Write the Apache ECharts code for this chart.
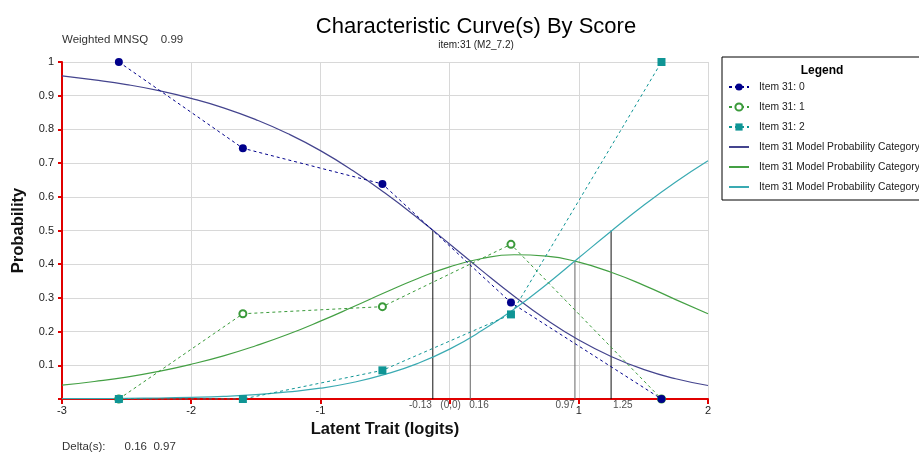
<!DOCTYPE html>
<html>
<head>
<meta charset="utf-8">
<script src="https://cdn.jsdelivr.net/npm/echarts@6/dist/echarts.min.js"></script>
<style>html,body{margin:0;padding:0;background:#fff;}#c{width:919px;height:455px;}</style>
</head>
<body>
<div id="c"></div>
<script>
// ---- Data ----
const obsX = [-2.56, -1.6, -0.52, 0.475, 1.64];
const obs0 = [1.0, 0.744, 0.638, 0.286, 0.0];
const obs1 = [0.0, 0.253, 0.274, 0.459, 0.0];
const obs2 = [0.0, 0.0, 0.085, 0.251, 1.0];

const modelX = [-3, -2.75, -2.5, -2.25, -2, -1.75, -1.5, -1.25, -1, -0.75, -0.5, -0.25, 0, 0.25, 0.5, 0.75, 1, 1.25, 1.5, 1.75, 2];
const model0 = [0.959, 0.947, 0.933, 0.915, 0.892, 0.864, 0.829, 0.787, 0.737, 0.678, 0.611, 0.538, 0.460, 0.381, 0.305, 0.235, 0.175, 0.126, 0.088, 0.060, 0.040];
const model1 = [0.041, 0.052, 0.065, 0.082, 0.103, 0.128, 0.158, 0.192, 0.231, 0.273, 0.316, 0.357, 0.392, 0.417, 0.428, 0.424, 0.406, 0.376, 0.338, 0.295, 0.253];
const model2 = [0.001, 0.001, 0.002, 0.003, 0.005, 0.008, 0.013, 0.021, 0.032, 0.049, 0.073, 0.105, 0.148, 0.203, 0.267, 0.340, 0.419, 0.498, 0.574, 0.644, 0.707];

const thresholdX = [-0.13, 0.16, 0.97, 1.25];
const thresholdTop = [0.5, 0.41, 0.41, 0.5];
const annotX = [-0.13, 0, 0.16, 0.97, 1.25];
const annotText = ['-0.13', '(0,0)', '0.16', '0.97', '1.25'];

const seriesNames = ['Item 31: 0', 'Item 31: 1', 'Item 31: 2',
  'Item 31 Model Probability Category 0', 'Item 31 Model Probability Category 1', 'Item 31 Model Probability Category 2'];

const titleText = 'Characteristic Curve(s) By Score';
const subText = 'item:31 (M2_7.2)';
const mnsqText = 'Weighted MNSQ    0.99';
const deltaText = 'Delta(s):      0.16  0.97';

// ---- Build chart ----
const FONT = 'Liberation Sans, Arial, sans-serif';
const zip = (xs, ys) => xs.map((x, i) => [x, ys[i]]);

const cNavy = '#00008b', cGreen = '#3a9a3a', cTeal = '#0f9595';
const mNavy = '#44448e', mGreen = '#44a044', mTeal = '#3aaab2';

const thresholdColors = ['#111', '#666', '#666', '#111'];
const annotAlign = ['right', 'center', 'left', 'right', 'left'];
const annotOffset = [[-1, 0], [1, 0], [-1, 0], [0, 0], [2, 0]];

const series = [];
thresholdX.forEach((x, i) => {
  series.push({
    type: 'line', silent: true, symbol: 'none', z: 1,
    data: [[x, 0], [x, thresholdTop[i]]],
    lineStyle: { color: thresholdColors[i], width: 1 }
  });
});
series.push(
  { name: seriesNames[3], type: 'line', smooth: true, symbol: 'none', data: zip(modelX, model0), lineStyle: { color: mNavy, width: 1.2 }, itemStyle: { color: mNavy }, z: 3 },
  { name: seriesNames[4], type: 'line', smooth: true, symbol: 'none', data: zip(modelX, model1), lineStyle: { color: mGreen, width: 1.2 }, itemStyle: { color: mGreen }, z: 3 },
  { name: seriesNames[5], type: 'line', smooth: true, symbol: 'none', data: zip(modelX, model2), lineStyle: { color: mTeal, width: 1.2 }, itemStyle: { color: mTeal }, z: 3 },
  { name: seriesNames[1], type: 'line', data: zip(obsX, obs1), symbol: 'emptyCircle', symbolSize: 7,
    lineStyle: { color: cGreen, width: 1, type: [3, 3] }, itemStyle: { color: cGreen, borderColor: cGreen, borderWidth: 1.1 }, z: 4 },
  { name: seriesNames[0], type: 'line', data: zip(obsX, obs0), symbol: 'circle', symbolSize: 8,
    lineStyle: { color: cNavy, width: 1, type: [3, 3] }, itemStyle: { color: cNavy }, z: 5 },
  { name: seriesNames[2], type: 'line', data: zip(obsX, obs2), symbol: 'rect', symbolSize: 8,
    lineStyle: { color: cTeal, width: 1, type: [3, 3] }, itemStyle: { color: cTeal }, z: 5 },
  { type: 'scatter', silent: true, symbolSize: 0, z: 6,
    data: annotX.map((x, i) => ({
      value: [x, 0],
      label: { show: true, formatter: annotText[i], position: 'bottom', distance: 1, align: annotAlign[i], offset: annotOffset[i],
        fontSize: 10, color: '#222', fontFamily: FONT }
    }))
  }
);

const legendData = seriesNames.map((n, i) => i < 3 ? { name: n } : { name: n, itemStyle: { opacity: 0 } });

const chart = echarts.init(document.getElementById('c'), null, { renderer: 'canvas' });
chart.setOption({
  animation: false,
  backgroundColor: '#fff',
  title: [
    { text: titleText, subtext: subText, left: 476, textAlign: 'center', top: 16, itemGap: 2, padding: 0,
      textStyle: { fontSize: 22, fontWeight: 'normal', color: '#000', fontFamily: FONT },
      subtextStyle: { fontSize: 10, color: '#222', fontFamily: FONT } },
    { text: mnsqText, left: 62, top: 34, padding: 0, textStyle: { fontSize: 11.5, fontWeight: 'normal', color: '#333', fontFamily: FONT } },
    { text: deltaText, left: 62, top: 441, padding: 0, textStyle: { fontSize: 11.5, fontWeight: 'normal', color: '#333', fontFamily: FONT } },
    { text: 'Legend', left: 822, textAlign: 'center', top: 65, padding: 0, textStyle: { fontSize: 12, fontWeight: 'bold', color: '#000', fontFamily: FONT } }
  ],
  legend: {
    orient: 'vertical', left: 722, top: 57,
    data: legendData,
    borderColor: '#000', borderWidth: 1, borderRadius: 0,
    padding: [24, 12, 7, 6],
    itemWidth: 20, itemHeight: 9, itemGap: 8,
    selectedMode: false,
    textStyle: { fontSize: 10.3, color: '#222', fontFamily: FONT, padding: [0, 0, 0, 5], lineHeight: 12 }
  },
  grid: { left: 62, right: 211, top: 62, bottom: 56, containLabel: false },
  xAxis: {
    type: 'value', min: -3, max: 2, interval: 1,
    name: 'Latent Trait (logits)', nameLocation: 'middle', nameGap: 21,
    nameTextStyle: { fontSize: 16.5, fontWeight: 'bold', color: '#111', fontFamily: FONT },
    axisLine: { show: true, onZero: false, lineStyle: { color: '#e00000', width: 2 } },
    axisTick: { show: true, length: 5, lineStyle: { color: '#e00000', width: 2 } },
    axisLabel: { fontSize: 11, color: '#222', fontFamily: FONT, margin: 6, formatter: v => v === 0 ? '' : String(v) },
    splitLine: { show: true, lineStyle: { color: '#d8d8d8', width: 1 } }
  },
  yAxis: {
    type: 'value', min: 0, max: 1, interval: 0.1,
    name: 'Probability', nameLocation: 'middle', nameGap: 35, nameRotate: 90,
    nameTextStyle: { fontSize: 16.5, fontWeight: 'bold', color: '#111', fontFamily: FONT },
    axisLine: { show: true, onZero: false, lineStyle: { color: '#e00000', width: 2 } },
    axisTick: { show: true, length: 4, lineStyle: { color: '#e00000', width: 2 } },
    axisLabel: { fontSize: 11, color: '#222', fontFamily: FONT, margin: 8, formatter: v => v === 0 ? '' : String(+v.toFixed(1)) },
    splitLine: { show: true, lineStyle: { color: '#d8d8d8', width: 1 } }
  },
  series: series
});
</script>
</body>
</html>
